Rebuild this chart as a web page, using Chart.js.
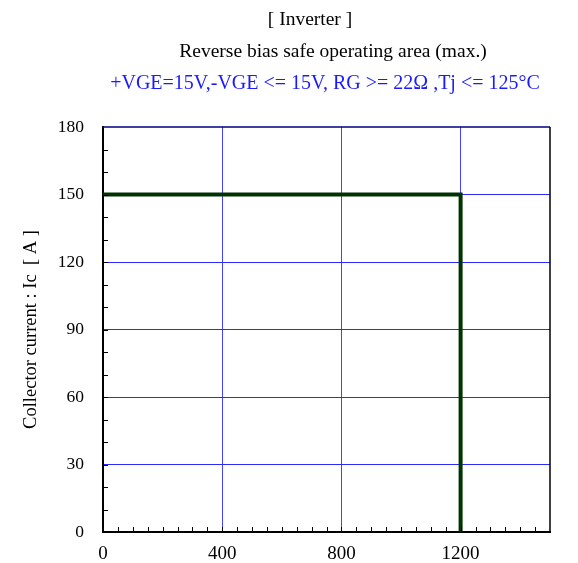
<!DOCTYPE html>
<html>
<head>
<meta charset="utf-8">
<script src="https://cdn.jsdelivr.net/npm/chart.js@4/dist/chart.umd.min.js"></script>
<style>
  html, body { margin: 0; padding: 0; background: #fff; }
  #wrap { width: 578px; height: 563px; }
</style>
</head>
<body>
<div id="wrap"><canvas id="rbsoa"></canvas></div>
<script>
/* ─── Data ───────────────────────────────────────────────────────────────── */
const VCE_V   = [0, 1200, 1200];   // collector-emitter voltage [V]
const IC_A    = [150, 150, 0];     // collector current [A]
const X_MAJOR = [0, 400, 800, 1200];
const Y_MAJOR = [0, 30, 60, 90, 120, 150, 180];

const TITLES = [
  { text: '[ Inverter ]',                                        color: '#000',    x: 310, y: 25, size: 19.5 },
  { text: 'Reverse bias safe operating area (max.)',             color: '#000',    x: 333, y: 57, size: 19.5 },
  { text: '+VGE=15V,-VGE <= 15V, RG >= 22\u03A9 ,Tj <= 125\u00B0C', color: '#1a1aff', x: 325, y: 89, size: 20 }
];

const FONT = '"Liberation Serif", "DejaVu Serif", serif';

/* ─── Plugins ────────────────────────────────────────────────────────────── */
const titleText = {
  id: 'titleText',
  afterDraw(chart) {
    const { ctx } = chart;
    ctx.save();
    ctx.textAlign = 'center';
    ctx.textBaseline = 'alphabetic';
    for (const t of TITLES) {
      ctx.font = `${t.size}px ${FONT}`;
      ctx.fillStyle = t.color;
      ctx.fillText(t.text, t.x, t.y);
    }
    ctx.restore();
  }
};

const frameAndMinor = {
  id: 'frameAndMinor',
  afterDatasetsDraw(chart) {
    const { ctx, chartArea: a, scales: { x, y } } = chart;
    ctx.save();
    // minor ticks, pointing inward
    ctx.strokeStyle = '#000';
    ctx.lineWidth = 1;
    ctx.beginPath();
    for (let v = 50; v < 1500; v += 50) {
      const px = Math.round(x.getPixelForValue(v)) + 0.5;
      ctx.moveTo(px, a.bottom);
      ctx.lineTo(px, a.bottom - 5);
    }
    for (let v = 10; v < 180; v += 10) {
      const py = Math.round(y.getPixelForValue(v)) + 0.5;
      ctx.moveTo(a.left, py);
      ctx.lineTo(a.left + 5, py);
    }
    ctx.stroke();
    // top and right frame
    ctx.lineWidth = 1.5;
    ctx.strokeStyle = '#000080';
    ctx.beginPath();
    ctx.moveTo(a.left, a.top);
    ctx.lineTo(a.right, a.top);
    ctx.stroke();
    ctx.strokeStyle = '#000';
    ctx.beginPath();
    ctx.moveTo(a.right, a.top);
    ctx.lineTo(a.right, a.bottom);
    ctx.stroke();
    ctx.restore();
  }
};

const isMajor = (list, v) => list.some(m => Math.abs(m - v) < 1e-6);

/* ─── Chart ──────────────────────────────────────────────────────────────── */
Chart.defaults.font.family = FONT;
Chart.defaults.color = '#000';

new Chart(document.getElementById('rbsoa'), {
  type: 'scatter',
  data: {
    datasets: [{
      data: VCE_V.map((v, i) => ({ x: v, y: IC_A[i] })),
      showLine: true,
      borderColor: '#003300',
      borderWidth: 4,
      pointRadius: 0,
      tension: 0
    }]
  },
  options: {
    responsive: true,
    maintainAspectRatio: false,
    animation: false,
    layout: { padding: { top: 127, right: 28, left: 0, bottom: 0 } },
    plugins: { legend: { display: false }, tooltip: { enabled: false } },
    scales: {
      x: {
        type: 'linear',
        min: 0,
        max: 1500,
        afterFit: s => { s.height = 31; },
        ticks: {
          stepSize: 50,
          autoSkip: false,
          maxRotation: 0,
          padding: 11,
          font: { size: 19 },
          callback: v => (isMajor(X_MAJOR, v) ? String(v) : '')
        },
        grid: {
          drawTicks: false,
          lineWidth: 1,
          color: c => (c.tick && c.tick.value > 0 && isMajor(X_MAJOR, c.tick.value) ? '#4444ff' : 'rgba(0,0,0,0)')
        },
        border: { display: true, color: '#000', width: 2 }
      },
      y: {
        type: 'linear',
        min: 0,
        max: 180,
        afterFit: s => { s.width = 103; },
        ticks: {
          stepSize: 10,
          autoSkip: false,
          padding: 19,
          font: { size: 17.5 },
          callback: v => (isMajor(Y_MAJOR, v) ? String(v) : '')
        },
        grid: {
          drawTicks: false,
          lineWidth: 1,
          color: c => (c.tick && c.tick.value > 0 && c.tick.value < 180 && isMajor(Y_MAJOR, c.tick.value) ? '#2a2aff' : 'rgba(0,0,0,0)')
        },
        border: { display: true, color: '#000', width: 2 },
        title: {
          display: true,
          text: 'Collector current : Ic  [ A ]',
          font: { size: 18.5 },
          padding: { top: 20, bottom: 0 }
        }
      }
    }
  },
  plugins: [titleText, frameAndMinor]
});
</script>
</body>
</html>
